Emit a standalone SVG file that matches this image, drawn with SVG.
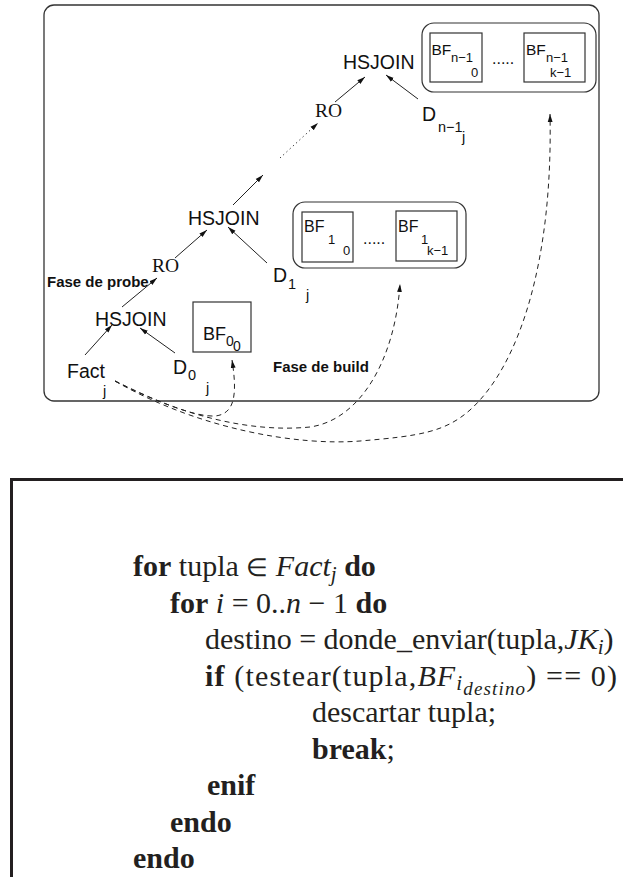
<svg xmlns="http://www.w3.org/2000/svg" width="623" height="877" viewBox="0 0 623 877">
<style>
.box{fill:none;stroke:#333;stroke-width:1.2}
.frame{fill:none;stroke:#333;stroke-width:1.3}
.sans{font-family:"Liberation Sans",Arial,sans-serif;fill:#111}
.serif{font-family:"Liberation Serif","Times New Roman",serif;fill:#111}
.lbl{font-size:19.5px}
.sub{font-size:14.5px}
.bf{font-size:15.5px}
.bfs{font-size:13px}
.phase{font-size:15px;font-weight:bold}
.edge{stroke:#222;stroke-width:1;fill:none}
.dash{stroke-dasharray:5 4}
.dot{stroke-dasharray:1.2 3.2}
.code{font-family:"Liberation Serif","Times New Roman",serif;font-size:30px;fill:#231f20}
.b{font-weight:bold}
.i{font-style:italic}
</style>
<defs>
<marker id="arr" viewBox="0 0 10 10" refX="10" refY="5" markerWidth="8" markerHeight="8" markerUnits="userSpaceOnUse" orient="auto">
<path d="M0,2 L10,5 L0,8 Z" fill="#111"/>
</marker>
</defs>
<rect id="frame-top" class="frame" x="44" y="5" width="555" height="396" rx="10"/>
<g id="node-hsjoin-top"><text class="sans lbl" x="343" y="69">HSJOIN</text></g>
<g id="node-ro-top"><text class="serif lbl" x="315" y="117">RO</text></g>
<g id="node-dn1"><text class="sans lbl" x="422" y="121">D</text><text class="sans sub" x="438" y="132">n−1</text><text class="sans sub" x="462" y="142">j</text></g>
<g id="node-bf-n1">
<rect class="box" x="422" y="23" width="174" height="69" rx="12"/>
<rect class="box" x="430" y="33" width="52" height="49"/>
<text class="sans bf" x="431.5" y="55">BF</text><text class="sans bfs" x="451" y="62">n−1</text><text class="sans bfs" x="471" y="76.5">0</text>
<text class="sans" font-size="16" x="492" y="64">.....</text>
<rect class="box" x="524" y="33" width="61" height="49"/>
<text class="sans bf" x="526" y="55">BF</text><text class="sans bfs" x="546" y="62">n−1</text><text class="sans bfs" x="550" y="77">k−1</text>
</g>
<g id="node-hsjoin-mid"><text class="sans lbl" x="188" y="225">HSJOIN</text></g>
<g id="node-ro-mid"><text class="serif lbl" x="152" y="272">RO</text></g>
<g id="node-d1"><text class="sans lbl" x="273" y="282">D</text><text class="sans sub" x="288" y="289">1</text><text class="sans sub" x="306" y="300">j</text></g>
<g id="node-bf-1">
<rect class="box" x="293" y="202" width="173" height="66" rx="12"/>
<rect class="box" x="302" y="212" width="51" height="50"/>
<text class="sans" font-size="16" x="304" y="232">BF</text><text class="sans bfs" x="328" y="244">1</text><text class="sans bfs" x="343" y="255">0</text>
<text class="sans" font-size="16" x="363" y="244">.....</text>
<rect class="box" x="396" y="211" width="61" height="50"/>
<text class="sans" font-size="16" x="398" y="232">BF</text><text class="sans bfs" x="421" y="244">1</text><text class="sans bfs" x="427" y="255">k−1</text>
</g>
<g id="node-hsjoin-low"><text class="sans lbl" x="95" y="326">HSJOIN</text></g>
<g id="label-probe"><text class="sans phase" x="47" y="287">Fase de probe</text></g>
<g id="node-bf-0">
<rect class="box" x="193" y="302" width="58" height="50"/>
<text class="sans" font-size="18" x="203" y="340">BF</text><text class="sans" font-size="14" x="226" y="346">0</text><text class="sans" font-size="14" x="233" y="351">0</text>
</g>
<g id="node-fact"><text class="sans lbl" x="67" y="378">Fact</text><text class="sans sub" x="103" y="396">j</text></g>
<g id="node-d0"><text class="sans lbl" x="173" y="374">D</text><text class="sans sub" x="188" y="380">0</text><text class="sans sub" x="206" y="393">j</text></g>
<g id="label-build"><text class="sans phase" x="273" y="372">Fase de build</text></g>
<g id="connectors">
<line class="edge" x1="85" y1="355" x2="112" y2="325" marker-end="url(#arr)"/>
<line class="edge" x1="175" y1="353" x2="140" y2="328" marker-end="url(#arr)"/>
<line class="edge" x1="122" y1="307" x2="157" y2="278" marker-end="url(#arr)"/>
<line class="edge" x1="175" y1="258" x2="207" y2="230" marker-end="url(#arr)"/>
<line class="edge" x1="267" y1="263" x2="228" y2="227" marker-end="url(#arr)"/>
<line class="edge" x1="233" y1="205" x2="263" y2="175" marker-end="url(#arr)"/>
<line class="edge dot" x1="280" y1="158" x2="318" y2="123" marker-end="url(#arr)"/>
<line class="edge" x1="335" y1="102" x2="365" y2="77" marker-end="url(#arr)"/>
<line class="edge" x1="418" y1="99" x2="386" y2="75" marker-end="url(#arr)"/>
<path class="edge dash" d="M115,381 C150,398 192,417 215,416 C236,414 237,392 232,360" marker-end="url(#arr)"/>
<path class="edge dash" d="M115,381 C180,415 250,433 310,427 C360,420 395,360 400,284" marker-end="url(#arr)"/>
<path class="edge dash" d="M115,381 C200,430 300,446 360,441 C420,436 445,432 470,410 C520,365 553,260 550,114" marker-end="url(#arr)"/>
</g>
<path id="frame-code" d="M11.5,877 V479.5 H623" fill="none" stroke="#231f20" stroke-width="3"/>
<g id="code">
<text class="code" x="133" y="576"><tspan class="b">for</tspan> tupla <tspan font-size="25">∈</tspan> <tspan class="i">Fact</tspan><tspan class="i" font-size="21" dy="4.5">j</tspan><tspan dy="-4.5"> </tspan><tspan class="b">do</tspan></text>
<text class="code" x="170" y="612.5"><tspan class="b">for</tspan> <tspan class="i">i</tspan> = 0..<tspan class="i">n</tspan> − 1 <tspan class="b">do</tspan></text>
<text class="code" x="205" y="649">destino = donde_enviar(tupla,<tspan class="i">JK</tspan><tspan class="i" font-size="21" dy="4.5">i</tspan><tspan dy="-4.5">)</tspan></text>
<text class="code" x="205" y="685.5" textLength="412" lengthAdjust="spacing"><tspan class="b">if</tspan> (testear(tupla,<tspan class="i">BF</tspan><tspan class="i" font-size="21" dy="4.5">i</tspan><tspan class="i" font-size="19" dy="4.5">destino</tspan><tspan dy="-9">) == 0)</tspan></text>
<text class="code" x="312" y="722">descartar tupla;</text>
<text class="code" x="312" y="758.5"><tspan class="b">break</tspan>;</text>
<text class="code b" x="207" y="795">enif</text>
<text class="code b" x="170" y="831.5">endo</text>
<text class="code b" x="133" y="868">endo</text>
</g>
</svg>
